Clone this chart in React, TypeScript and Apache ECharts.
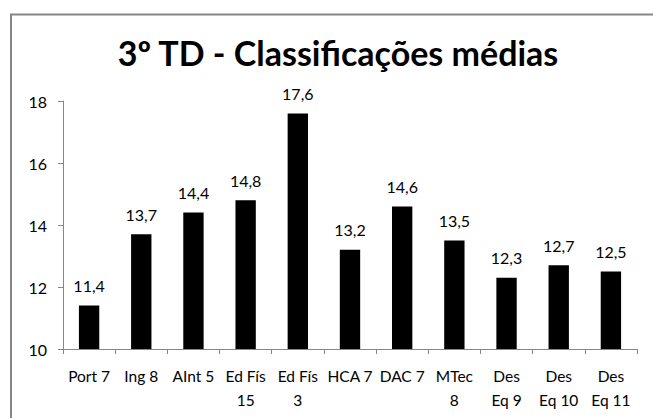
import React, { useEffect, useRef } from "react";
import * as echarts from "echarts";

const titleText = "3º TD - Classificações médias";
const categories = [
  "Port 7",
  "Ing 8",
  "AInt 5",
  "Ed Fís\n15",
  "Ed Fís\n3",
  "HCA 7",
  "DAC 7",
  "MTec\n8",
  "Des\nEq 9",
  "Des\nEq 10",
  "Des\nEq 11",
];
const values = [11.4, 13.7, 14.4, 14.8, 17.6, 13.2, 14.6, 13.5, 12.3, 12.7, 12.5];
const yMin = 10;
const yMax = 18;
const yInterval = 2;

const FONT = "Lato";
const fmt = (v: number) => v.toFixed(1).replace(".", ",");

export default function App() {
  const ref = useRef<HTMLDivElement>(null);
  useEffect(() => {
    if (!ref.current) return;
    const chart = echarts.init(ref.current, undefined, { renderer: "svg" });
    chart.setOption({
      animation: false,
      backgroundColor: "#ffffff",
      textStyle: { fontFamily: FONT },
      title: {
        text: titleText,
        left: 333,
        top: 30,
        textAlign: "center",
        textStyle: { fontFamily: FONT, fontWeight: "bold", fontSize: 34, color: "#000" },
      },
      graphic: [
        {
          type: "rect",
          shape: { x: 11, y: 14.5, width: 700, height: 600 },
          style: { fill: "none", stroke: "#868686", lineWidth: 2 },
          silent: true,
        },
      ],
      grid: { left: 63, right: 16, top: 101, bottom: 69, containLabel: false },
      xAxis: {
        type: "category",
        data: categories,
        axisLine: { lineStyle: { color: "#868686", width: 1 } },
        axisTick: { show: true, length: 5, lineStyle: { color: "#868686" } },
        axisLabel: {
          color: "#000",
          fontFamily: FONT,
          fontSize: 15.5,
          lineHeight: 24,
          margin: 15,
          interval: 0,
        },
      },
      yAxis: {
        type: "value",
        min: yMin,
        max: yMax,
        interval: yInterval,
        axisLine: { show: true, lineStyle: { color: "#868686", width: 1 } },
        axisTick: { show: true, length: 5, lineStyle: { color: "#868686" } },
        splitLine: { show: false },
        axisLabel: { color: "#000", fontFamily: FONT, fontSize: 16, margin: 16 },
      },
      series: [
        {
          type: "bar",
          data: values,
          barWidth: "39%",
          itemStyle: { color: "#000" },
          label: {
            show: true,
            position: "top",
            distance: 12,
            color: "#000",
            fontFamily: FONT,
            fontSize: 16,
            formatter: (p: any) => fmt(p.value),
          },
        },
      ],
    });
    return () => chart.dispose();
  }, []);
  return <div ref={ref} style={{ width: 653, height: 418, position: "fixed", left: 0, top: 0 }} />;
}
